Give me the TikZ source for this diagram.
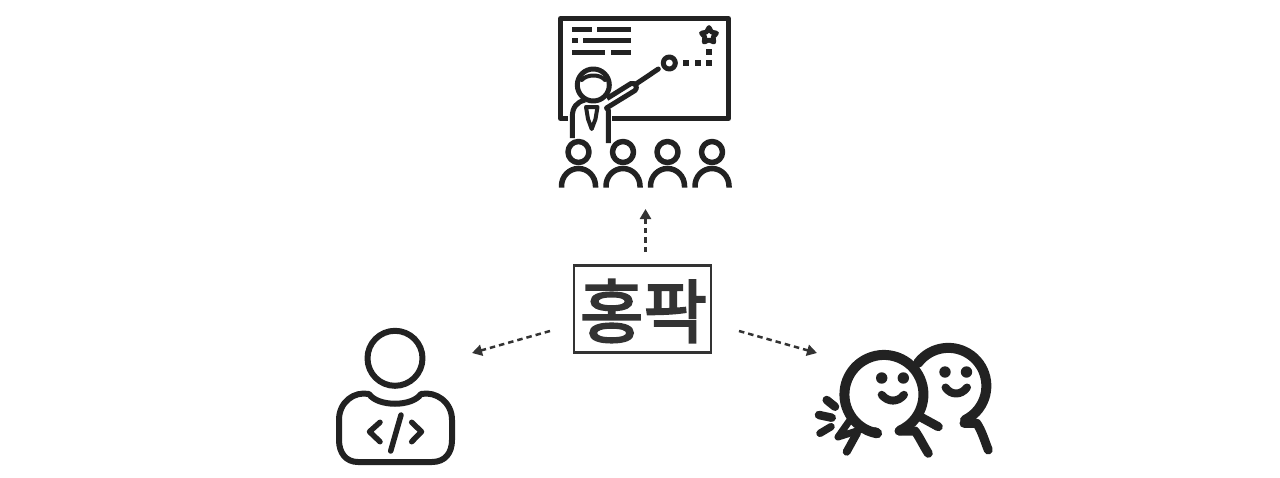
\documentclass[tikz,border=0pt]{standalone}
\usepackage{fontspec}
\usetikzlibrary{arrows.meta}
\newfontfamily\krfont[FakeBold=3]{Noto Sans CJK KR}
\definecolor{ink}{HTML}{222222}
\definecolor{labelink}{HTML}{333333}
\tikzset{
  x=1pt,y=-1pt,
  icon/.style={draw=ink,line width=#1,line cap=round,line join=round,fill=none},
  iconb/.style={draw=ink,line width=#1,line cap=butt,line join=miter,fill=none},
  flow/.style={draw=labelink,line width=2.5pt,dash pattern=on 5.5pt off 4pt,-{Triangle[length=10pt,width=11pt,fill=labelink]}},
  namebox/.style={draw=labelink,line width=2.2pt,fill=white,minimum width=137pt,minimum height=87pt,inner sep=0pt,text=labelink}
}
\begin{document}
\begin{tikzpicture}
\useasboundingbox (0,0) rectangle (1280,477);
% ---- teacher
\draw[icon=5pt,line cap=butt,line join=round] (568,118.5) -- (560.5,118.5) -- (560.5,18.5) -- (728.5,18.5) -- (728.5,118.5) -- (612,118.5);
\foreach \xa/\xb/\yy in {572/592/29.7,597/631/29.7,572/578/40.7,583/631/40.7,572/605/52,611/631/52}
  \draw[iconb=5pt] (\xa,\yy) -- (\xb,\yy);
\draw[icon=4.8pt] (709,27.5) -- (711.5,32) -- (716.5,33.2) -- (713.2,37) -- (713.8,42) -- (709,40) -- (704.2,42) -- (704.8,37) -- (701.5,33.2) -- (706.5,32) -- cycle;
\foreach \xx/\yy in {709/51.7,686/63,697.7/63,709/63}
  \fill[ink] (\xx-2.8,\yy-2.8) rectangle (\xx+2.8,\yy+2.8);
\draw[icon=5pt] (669.3,63) circle (6);
\draw[icon=5pt] (658.3,69) -- (636,84);
\draw[iconb=5pt,line join=round] (608.3,143) -- (608.3,110) -- (606.5,108) -- (635,90.5) .. controls (638,88) and (636,82) .. (631,83.5) -- (607,98.5);
\draw[iconb=5pt] (572.3,138) -- (572.3,117) .. controls (572.3,107) and (577,102) .. (585,100);
\draw[icon=5pt] (593.3,85) circle (16);
\draw[icon=4pt] (581.7,80) .. controls (587,74) and (600,74) .. (605,80);
\draw[icon=4pt] (586,107) -- (597.5,107) -- (595.5,119) -- (591.7,129) -- (588,119) -- cycle;
\foreach \xx in {578.5,623,667.5,712}{
  \draw[icon=5.5pt] (\xx,152) circle (10.5);
  \draw[iconb=5.5pt] (\xx-17,187.7) -- (\xx-17,186) arc (180:360:17 and 17.5) -- (\xx+17,187.7);
}
% ---- coder
\draw[icon=6pt] (395,358.3) circle (27.5);
\draw[icon=6pt] (369,394) .. controls (378,407) and (412,407) .. (421,394)
  .. controls (436,391) and (452,402) .. (452,420) -- (452,440)
  .. controls (452,453) and (445,462) .. (432,462) -- (358,462)
  .. controls (346,462) and (339,453) .. (339,440) -- (339,420)
  .. controls (339,402) and (354,391) .. (369,394) -- cycle;
\draw[icon=5.5pt] (380,422.3) -- (369.5,431.7) -- (380,441.7);
\draw[icon=5.5pt] (411.7,422.3) -- (421.5,431.7) -- (411.7,441.7);
\draw[icon=5.5pt] (401,415) -- (390.7,451);
% ---- friends
\draw[icon=10pt] (918,363) arc (-143:64:38);
\draw[icon=9pt] (964,423.3) -- (976.7,423.3) .. controls (982,431) and (985,442) .. (988.3,450);
\fill[white] (884,394) circle (38);
\draw[icon=10pt] (900,430.5) arc (66:-260:39.5);
\draw[icon=9pt] (877,432.5) -- (874,431.5);
\draw[icon=9pt] (899,431) -- (915,431) .. controls (920,438) and (923,445) .. (928.3,453.3);
\draw[icon=9pt] (920,416.7) -- (938.3,426.7);
\draw[icon=7pt,line join=round] (850,420) -- (838,437) -- (860,430);
\draw[icon=8pt] (846.7,451.7) -- (857,433);
\draw[icon=8.5pt] (826.7,400) -- (835,406.7);
\draw[icon=8.5pt] (819,415) -- (831.7,417.7);
\draw[icon=7.5pt] (820,433.3) -- (831,426.7);
\foreach \xx/\yy in {881.7/378,903.3/378,945/372,966.5/372}
  \fill[ink] (\xx,\yy) circle (5.7);
\draw[icon=8pt] (881.7,394.8) .. controls (888,402.5) and (898,402.5) .. (904,394.8);
\draw[icon=8pt] (945.5,387.5) .. controls (951,395.5) and (961,395.5) .. (967,387.5);
% ---- centre
\node[namebox] (hong) at (642.5,309) {};
\node[text=labelink,inner sep=0pt,font=\krfont\fontsize{69}{69}\selectfont] (hongtext) at (643.5,311) {홍팍};
\coordinate (toteach) at (645.5,209);
\coordinate (tocoder) at (472,353);
\coordinate (tofriends) at (817,353);
\coordinate (upstart) at (645.5,252);
\coordinate (lstart) at (550,331);
\coordinate (rstart) at (739,331);
\draw[flow] (upstart) -- (toteach);
\draw[flow] (lstart) -- (tocoder);
\draw[flow] (rstart) -- (tofriends);
\end{tikzpicture}
\end{document}
